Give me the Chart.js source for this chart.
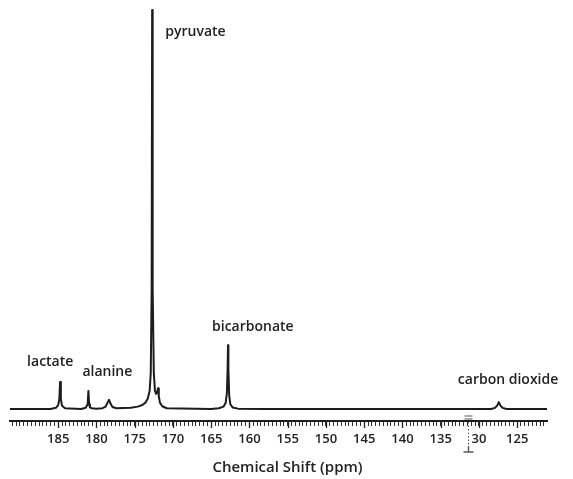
<!DOCTYPE html>
<html>
<head>
<meta charset="utf-8">
<title>13C spectrum</title>
<script src="https://cdn.jsdelivr.net/npm/chart.js@4.4.1/dist/chart.umd.min.js"></script>
<style>
  html, body { margin: 0; padding: 0; background: #fff; }
  #wrap { width: 573px; height: 479px; position: relative; }
</style>
</head>
<body>
<div id="wrap"><canvas id="spec"></canvas></div>
<script>
// Chemical shift (ppm) and relative intensity of the traced spectrum (pyruvate = 100)
const shiftPpm = [
  191.3, 186.0, 185.3, 185.0, 184.85, 184.75, 184.65, 184.5, 184.1,
  182.0, 181.4, 181.15, 181.05, 180.95, 180.85, 180.6, 180.0,
  179.2, 178.8, 178.55, 178.35, 178.15, 177.9, 177.4,
  175.5, 174.6, 174.0, 173.6, 173.3, 173.05, 172.9, 172.78, 172.72, 172.68,
  172.62, 172.5, 172.35, 172.2, 172.05, 171.95, 171.85, 171.7, 171.4, 170.8,
  165.0, 164.0, 163.4, 163.1, 162.95, 162.85, 162.8, 162.75, 162.65, 162.5, 162.2, 161.5,
  158.0, 150.0, 140.0, 133.0,
  128.4, 127.9, 127.6, 127.4, 127.2, 126.9, 126.4, 121.1
];
const intensity = [
  0, 0, 0.3, 1.0, 2.5, 6.8, 2.5, 0.8, 0.2,
  0, 0.3, 1.2, 4.5, 1.2, 0.4, 0.2, 0.1,
  0.2, 0.6, 1.6, 2.3, 1.3, 0.5, 0.2,
  0.3, 0.6, 1.0, 1.6, 2.6, 4.5, 9, 30, 100, 100,
  30, 9, 4.6, 3.8, 4.3, 5.2, 3.2, 1.6, 0.7, 0.2,
  0, 0.2, 0.6, 1.6, 4, 10, 16, 10, 3.5, 1.2, 0.4, 0.1,
  0, 0, 0, 0,
  0, 0.3, 0.9, 1.75, 0.9, 0.3, 0, 0
];

// Peak assignments
const peakNames = ['lactate', 'alanine', 'pyruvate', 'bicarbonate', 'carbon dioxide'];
const peakShifts = [184.75, 181.05, 172.7, 162.8, 127.4];

// Axis tick labels (ppm)
const tickValues = [185, 180, 175, 170, 165, 160, 155, 150, 145, 140, 135, 130, 125];
const tickText   = ['185', '180', '175', '170', '165', '160', '155', '150', '145', '140', '135', '30', '125'];
const axisBreakPpm = 131.4;
const axisTitle = 'Chemical Shift (ppm)';

const points = shiftPpm.map((x, i) => ({ x, y: intensity[i] }));
const FONT = '"Open Sans", "DejaVu Sans", sans-serif';

// Peak labels, placed relative to each peak's position on the scale
const labelPlacement = {
  'lactate':        { dx: -33, y: 362 },
  'alanine':        { dx: -6,  y: 372 },
  'pyruvate':       { dx: 13,  y: 32 },
  'bicarbonate':    { dx: -16, y: 327 },
  'carbon dioxide': { dx: -41, y: 380 }
};

const peakLabels = {
  id: 'peakLabels',
  afterDatasetsDraw(chart) {
    const { ctx, scales: { x } } = chart;
    ctx.save();
    ctx.font = '600 14px ' + FONT;
    ctx.fillStyle = '#222';
    ctx.textBaseline = 'middle';
    ctx.textAlign = 'left';
    peakNames.forEach((name, i) => {
      const p = labelPlacement[name];
      ctx.fillText(name, x.getPixelForValue(peakShifts[i]) + p.dx, p.y);
    });
    ctx.restore();
  }
};

// Axis title, longer ticks at labelled positions and the axis break mark
const axisDecor = {
  id: 'axisDecor',
  afterDraw(chart) {
    const { ctx, scales: { x }, chartArea } = chart;
    const y0 = chartArea.bottom;
    ctx.save();
    ctx.font = '600 15px ' + FONT;
    ctx.fillStyle = '#222';
    ctx.textAlign = 'center';
    ctx.textBaseline = 'middle';
    ctx.fillText(axisTitle, (chartArea.left + chartArea.right) / 2 + 9, y0 + 47);

    ctx.strokeStyle = '#222';
    ctx.lineWidth = 1.3;
    tickValues.forEach(v => {
      const px = Math.round(x.getPixelForValue(v)) + 0.5;
      ctx.beginPath();
      ctx.moveTo(px, y0);
      ctx.lineTo(px, y0 + 7);
      ctx.stroke();
    });
    const bx = Math.round(x.getPixelForValue(axisBreakPpm)) + 0.5;
    ctx.strokeStyle = '#555';
    ctx.lineWidth = 1;
    ctx.beginPath();
    ctx.moveTo(bx - 4, y0 - 5); ctx.lineTo(bx + 4, y0 - 5);
    ctx.moveTo(bx - 4, y0 - 2); ctx.lineTo(bx + 4, y0 - 2);
    ctx.stroke();
    ctx.setLineDash([1.5, 2]);
    ctx.beginPath();
    ctx.moveTo(bx, y0 + 1); ctx.lineTo(bx, y0 + 26);
    ctx.stroke();
    ctx.setLineDash([]);
    ctx.lineWidth = 1.4;
    ctx.beginPath();
    ctx.moveTo(bx, y0 + 25); ctx.lineTo(bx, y0 + 31);
    ctx.moveTo(bx - 5, y0 + 31); ctx.lineTo(bx + 5, y0 + 31);
    ctx.stroke();
    ctx.restore();
  }
};

new Chart(document.getElementById('spec'), {
  type: 'line',
  data: {
    datasets: [{
      data: points,
      borderColor: '#1c1c1c',
      borderWidth: 2,
      borderJoinStyle: 'round',
      borderCapStyle: 'round',
      pointRadius: 0,
      tension: 0,
      fill: false
    }]
  },
  options: {
    responsive: true,
    maintainAspectRatio: false,
    animation: false,
    events: [],
    layout: { padding: { left: 10, right: 26, top: 8, bottom: 0 } },
    plugins: { legend: { display: false }, tooltip: { enabled: false } },
    scales: {
      x: {
        type: 'linear',
        reverse: true,
        min: 121.1,
        max: 191.3,
        afterFit(scale) { scale.height = 58; },
        border: { display: true, color: '#1c1c1c', width: 2 },
        grid: { drawOnChartArea: false, drawTicks: true, tickLength: 5, color: '#333', tickWidth: 1 },
        ticks: {
          stepSize: 0.5,
          includeBounds: false,
          autoSkip: false,
          maxRotation: 0,
          padding: 5,
          color: '#222',
          font: { family: FONT, size: 13, weight: '600' },
          callback(v) {
            const i = tickValues.indexOf(v);
            return i >= 0 ? tickText[i] : '';
          }
        },
        title: { display: false }
      },
      y: {
        display: false,
        min: -3.0,
        max: 100.5
      }
    }
  },
  plugins: [peakLabels, axisDecor]
});
</script>
</body>
</html>
